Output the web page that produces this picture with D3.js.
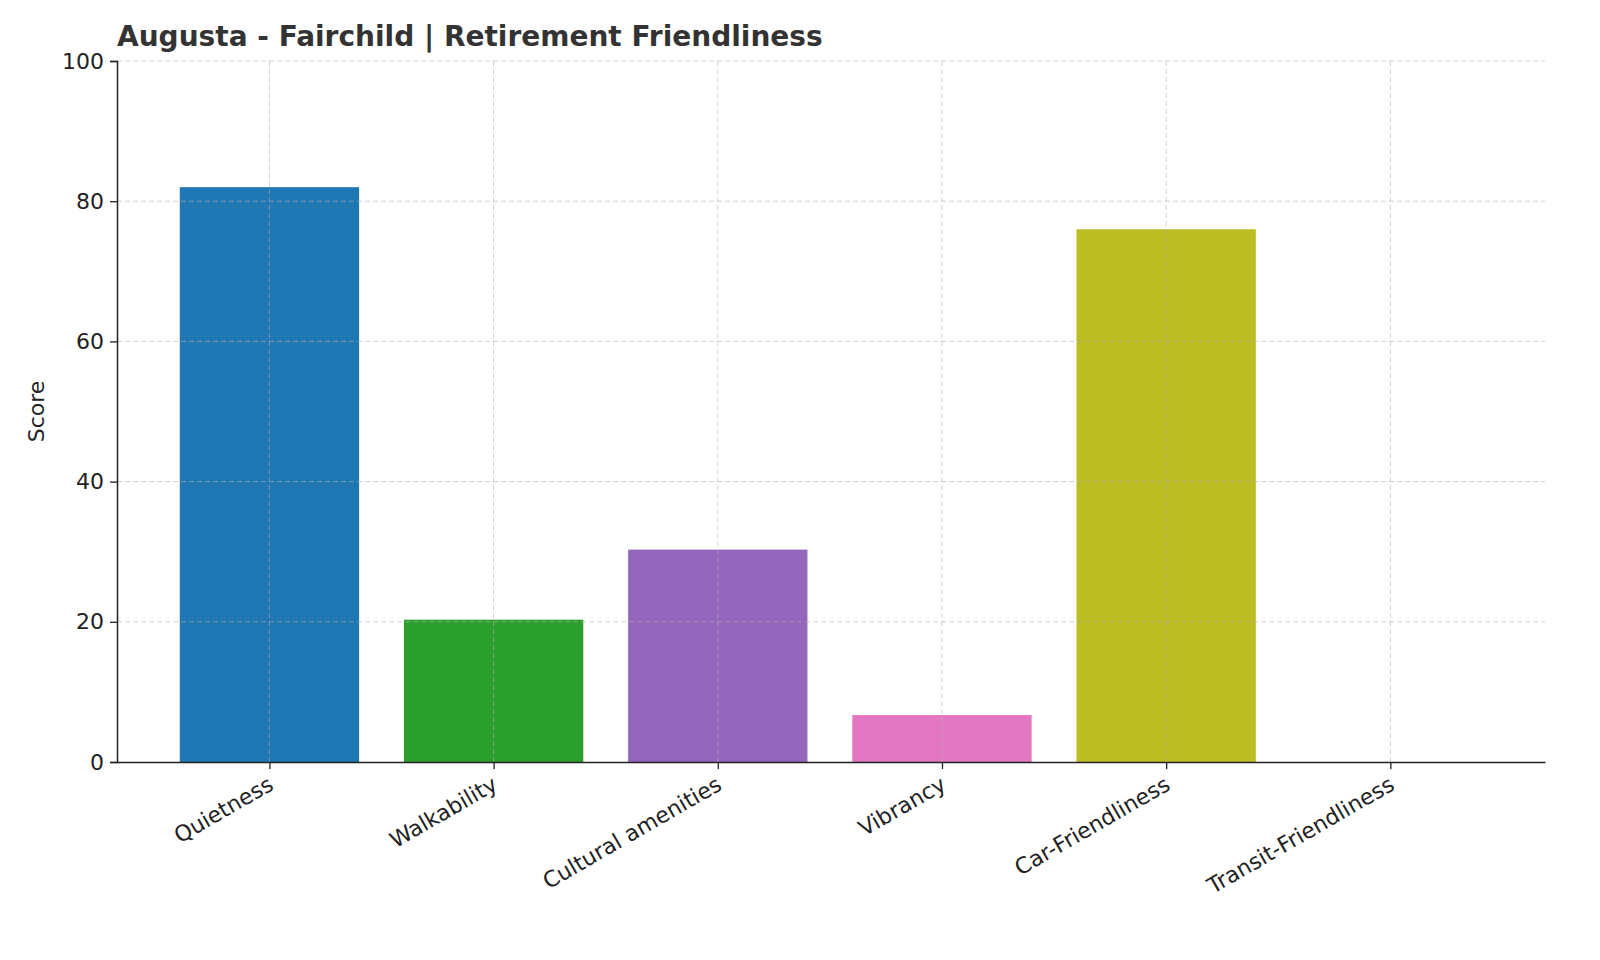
<!DOCTYPE html>
<html><head><meta charset="utf-8">
<script src="https://cdn.jsdelivr.net/npm/d3@7"></script>
<style>body{margin:0;background:#fff}text{font-family:"DejaVu Sans",sans-serif}</style>
</head><body><svg id="c" width="1600" height="960"></svg>
<script>
const categories=["Quietness","Walkability","Cultural amenities","Vibrancy","Car-Friendliness","Transit-Friendliness"];
const values=[82,20.3,30.3,6.7,76,0];
const colors=["#1f77b4","#2ca02c","#9467bd","#e377c2","#bcbd22","#17becf"];
const yTicks=[0,20,40,60,80,100];
const svg=d3.select("#c");
const L=117,R=1545,T=61,B=762;
const x=d3.scaleLinear().domain([-0.68,5.69]).range([L,R]);
const y=d3.scaleLinear().domain([0,100]).range([B,T]);
const step=x(1)-x(0),bw=step*0.8;
svg.selectAll("rect.bar").data(values).join("rect").attr("x",(d,i)=>x(i)-bw/2).attr("width",bw)
 .attr("y",d=>y(d)).attr("height",d=>B-y(d)).attr("fill",(d,i)=>colors[i]);
const g=svg.append("g");
g.selectAll("line.gy").data(yTicks.slice(1)).join("line").attr("x1",L).attr("x2",R).attr("y1",d=>y(d)).attr("y2",d=>y(d)).attr("stroke","#b0b0b0").attr("stroke-dasharray","5,3").attr("stroke-opacity",0.6);
g.selectAll("line.gx").data(categories).join("line").attr("x1",(d,i)=>x(i)).attr("x2",(d,i)=>x(i)).attr("y1",T).attr("y2",B).attr("stroke","#b0b0b0").attr("stroke-dasharray","5,3").attr("stroke-opacity",0.6);
const ya=svg.append("g").attr("transform",`translate(${L},0)`).call(d3.axisLeft(y).tickValues(yTicks).tickSize(7).tickPadding(6));
ya.selectAll("text").attr("font-size",22).attr("fill","#222");
ya.select(".domain").attr("stroke","#222").attr("stroke-width",1.5);
ya.selectAll(".tick line").attr("stroke","#222").attr("stroke-width",1.3);
const xa=svg.append("g").attr("transform",`translate(0,${B})`).call(d3.axisBottom(x).tickValues(d3.range(6)).tickFormat(i=>categories[i]).tickSize(7).tickSizeOuter(0));
xa.select(".domain").attr("stroke","#222").attr("stroke-width",1.5);
xa.selectAll(".tick line").attr("stroke","#222").attr("stroke-width",1.3);
xa.selectAll("text").attr("font-size",22).attr("fill","#222").attr("text-anchor","end").attr("dy",0)
 .attr("transform","translate(0,18) rotate(-30)");
svg.append("text").attr("transform",`translate(44,${(T+B)/2}) rotate(-90)`).attr("text-anchor","middle").attr("font-size",22).attr("fill","#222").text("Score");
svg.append("text").attr("x",L).attr("y",46).attr("font-size",28).attr("font-weight","bold").attr("fill","#333").text("Augusta - Fairchild | Retirement Friendliness");
</script></body></html>
